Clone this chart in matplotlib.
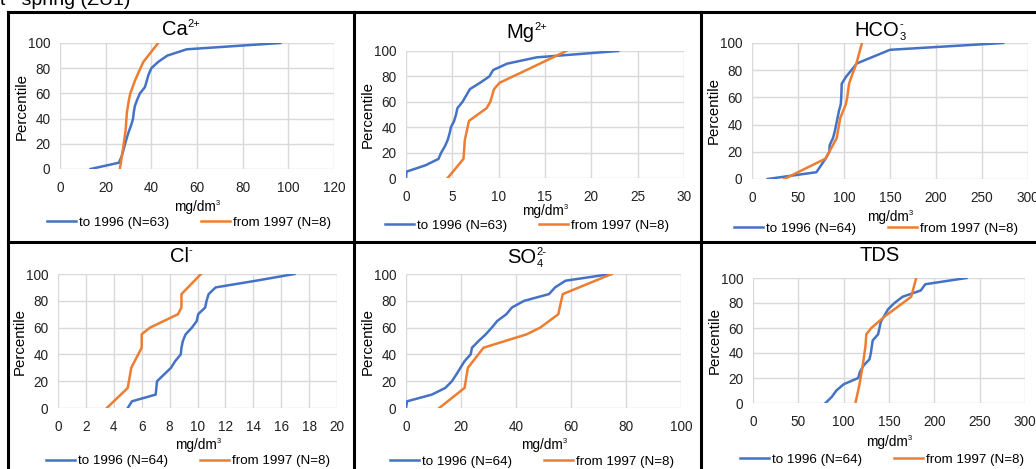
import matplotlib
matplotlib.use('Agg')
import matplotlib.pyplot as plt
from matplotlib.lines import Line2D

plt.rcParams['font.family'] = ['Liberation Sans', 'DejaVu Sans']

W, H = 1036, 469
BLUE = '#4472C4'
ORANGE = '#ED7D31'
GRID = '#D9D9D9'

# percentiles of the two periods
pct_old = list(range(0, 101, 5))
pct_new = [0, 15, 30, 45, 55, 60, 70, 75, 85, 100]

# concentrations (mg/dm3) read at each percentile
ca_old = [13.4, 25.8, 27.0, 27.8, 28.5, 29.3, 30.2, 31.2, 32.0, 32.3, 32.8,
          33.8, 35.0, 37.2, 38.0, 38.8, 40.0, 43.0, 47.0, 55.5, 96.5]
ca_new = [26.2, 27.5, 28.7, 29.3, 30.2, 30.8, 32.8, 34.0, 36.5, 43.0]

mg_old = [0.0, 0.05, 2.1, 3.5, 3.8, 4.2, 4.5, 4.7, 4.85, 5.2, 5.4,
          5.55, 6.1, 6.5, 6.9, 8.0, 9.0, 9.4, 10.9, 14.1, 22.9]
mg_new = [4.5, 6.2, 6.35, 6.8, 8.7, 9.1, 9.5, 10.1, 13.0, 17.3]

hco3_old = [17, 70, 75, 80, 84, 84.5, 88, 90, 91.5, 93, 94.5,
            96.5, 97, 97.3, 97.5, 102, 108, 114, 132, 150, 273]
hco3_new = [35, 80, 92, 96, 102, 103.5, 105.5, 108, 113.5, 119.5]

cl_old = [5.0, 5.3, 7.0, 7.05, 7.1, 7.6, 8.1, 8.4, 8.8, 8.85, 8.95,
          9.15, 9.6, 9.95, 10.05, 10.55, 10.65, 10.8, 11.3, 14.2, 16.95]
cl_new = [3.5, 5.0, 5.25, 6.0, 6.0, 6.6, 8.6, 8.85, 8.85, 10.25]

so4_old = [0.0, 0.4, 9.4, 14.3, 16.7, 18.3, 19.8, 21.3, 23.5, 24.0, 26.4,
           29.0, 31.2, 33.2, 36.5, 38.5, 43.0, 52.0, 54.2, 58.0, 74.5]
so4_new = [12.1, 21.3, 22.5, 28.2, 43.9, 48.8, 55.4, 55.9, 57.0, 74.8]

tds_old = [80, 87, 92, 100, 116, 118, 122, 128.5, 130, 131, 132,
           138, 139.5, 141, 145, 149, 156, 165, 185, 190, 235.5]
tds_new = [113, 117.5, 121, 124, 125, 130.5, 146.5, 156, 174.5, 180]

# titles as (text, kind) pieces: n = normal, sub / sup = small lowered / raised
titles = [
    [('Ca', 'n'), ('2+', 'sup')],
    [('Mg', 'n'), ('2+', 'sup')],
    [('HCO', 'n'), ('3', 'sub'), ('-', 'sup')],
    [('Cl', 'n'), ('-', 'sup')],
    [('SO', 'n'), ('4', 'sub'), ('2-', 'sup')],
    [('TDS', 'n')],
]
unit = [('mg/dm', 'n'), ('3', 'sup')]
series_old = [ca_old, mg_old, hco3_old, cl_old, so4_old, tds_old]
series_new = [ca_new, mg_new, hco3_new, cl_new, so4_new, tds_new]
n_old = [63, 63, 64, 64, 64, 64]
n_new = [8, 8, 8, 8, 8, 8]
x_max = [120, 30, 300, 20, 100, 300]
x_step = [20, 5, 50, 2, 20, 50]

# layout in pixels: plot box (l, t, r, b), panel centre x, title baseline, xlabel baseline, legend (x, y)
layout = [
    dict(box=(60, 43, 334, 169), cx=181, ty=35, xly=211, leg=(189, 223)),
    dict(box=(406, 51, 684, 178), cx=527, ty=38, xly=215, leg=(527, 226)),
    dict(box=(752, 43, 1028, 179), cx=880, ty=36, xly=221, leg=(876, 229)),
    dict(box=(58, 274, 337, 408), cx=181, ty=262, xly=449, leg=(188, 461)),
    dict(box=(406, 274, 681, 408), cx=527, ty=263, xly=449, leg=(532, 462)),
    dict(box=(753, 278, 1025, 403), cx=880, ty=261, xly=446, leg=(882, 460)),
]


def fx(x):
    return x / W


def fy(y):
    return 1 - y / H


fig = plt.figure(figsize=(W / 100, H / 100), dpi=100)
renderer = fig.canvas.get_renderer()


def rich_text(cx, base_y, parts, size):
    """ 윗첨자/아래첨자가 있는 글자를 가운데 정렬로 그리기 (pixel 좌표) """
    em = size * 100 / 72
    small = size * 0.55
    items = []
    for txt, kind in parts:
        fs = size if kind == 'n' else small
        t = fig.text(0, 0, txt, fontsize=fs, ha='left', va='baseline')
        w = t.get_window_extent(renderer).width
        items.append([t, kind, w])
    # horizontal layout, sub and sup stacked on top of each other
    pos = []
    x = 0
    prev = None
    for t, kind, w in items:
        if kind == 'sup' and prev is not None and prev[1] == 'sub':
            x0 = prev[0]
            x = max(x, x0 + w)
        else:
            x0 = x
            x = x0 + w
        pos.append(x0)
        prev = (x0, kind)
    total = x
    for (t, kind, w), x0 in zip(items, pos):
        dy = 0
        if kind == 'sup':
            dy = -0.42 * em
        elif kind == 'sub':
            dy = 0.22 * em
        t.set_position((fx(cx - total / 2 + x0), fy(base_y + dy)))


# text cut off at the top of the screenshot
fig.text(fx(0), fy(5), 't   spring (ZU1)', fontsize=14, va='baseline', ha='left')

for i in range(6):
    lay = layout[i]
    l, t, r, b = lay['box']
    ax = fig.add_axes([fx(l), fy(b), fx(r) - fx(l), fy(t) - fy(b)])
    ax.plot(series_old[i], pct_old, color=BLUE, lw=1.8,
            label=f'to 1996 (N={n_old[i]})', solid_joinstyle='round')
    ax.plot(series_new[i], pct_new, color=ORANGE, lw=1.8,
            label=f'from 1997 (N={n_new[i]})', solid_joinstyle='round')
    ax.set_xlim(0, x_max[i])
    ax.set_ylim(0, 100)
    ax.set_xticks(range(0, x_max[i] + 1, x_step[i]))
    ax.set_yticks(range(0, 101, 20))
    ax.grid(True, color=GRID, lw=1)
    ax.set_axisbelow(True)
    for s in ax.spines.values():
        s.set_visible(False)
    ax.tick_params(axis='both', length=0, labelsize=9.8, colors='#222222')
    ax.tick_params(axis='x', pad=8.5)
    ax.tick_params(axis='y', pad=7)

    rich_text(lay['cx'], lay['ty'], titles[i], 14.5)
    rich_text((l + r) / 2, lay['xly'], unit, 9.8)
    fig.text(fx(l - 38), fy((t + b) / 2), 'Percentile', fontsize=10.8,
             rotation=90, ha='center', va='center')
    ax.legend(loc='center', bbox_to_anchor=(fx(lay['leg'][0]), fy(lay['leg'][1])),
              bbox_transform=fig.transFigure, ncol=2, frameon=False,
              fontsize=9.6, handlelength=2.2, handletextpad=0.2,
              columnspacing=2.4, borderpad=0, borderaxespad=0)

# black frames around the panels
frame = dict(color='black', lw=2.2, transform=fig.transFigure)
fig.add_artist(Line2D([fx(8), fx(W)], [fy(12), fy(12)], **frame))
fig.add_artist(Line2D([fx(8), fx(W)], [fy(242), fy(242)], **frame))
fig.add_artist(Line2D([fx(8), fx(8)], [fy(12), fy(H)], **frame))
fig.add_artist(Line2D([fx(354), fx(354)], [fy(12), fy(H)], **frame))
fig.add_artist(Line2D([fx(701), fx(701)], [fy(12), fy(H)], **frame))

fig.savefig('out.png', dpi=100)
